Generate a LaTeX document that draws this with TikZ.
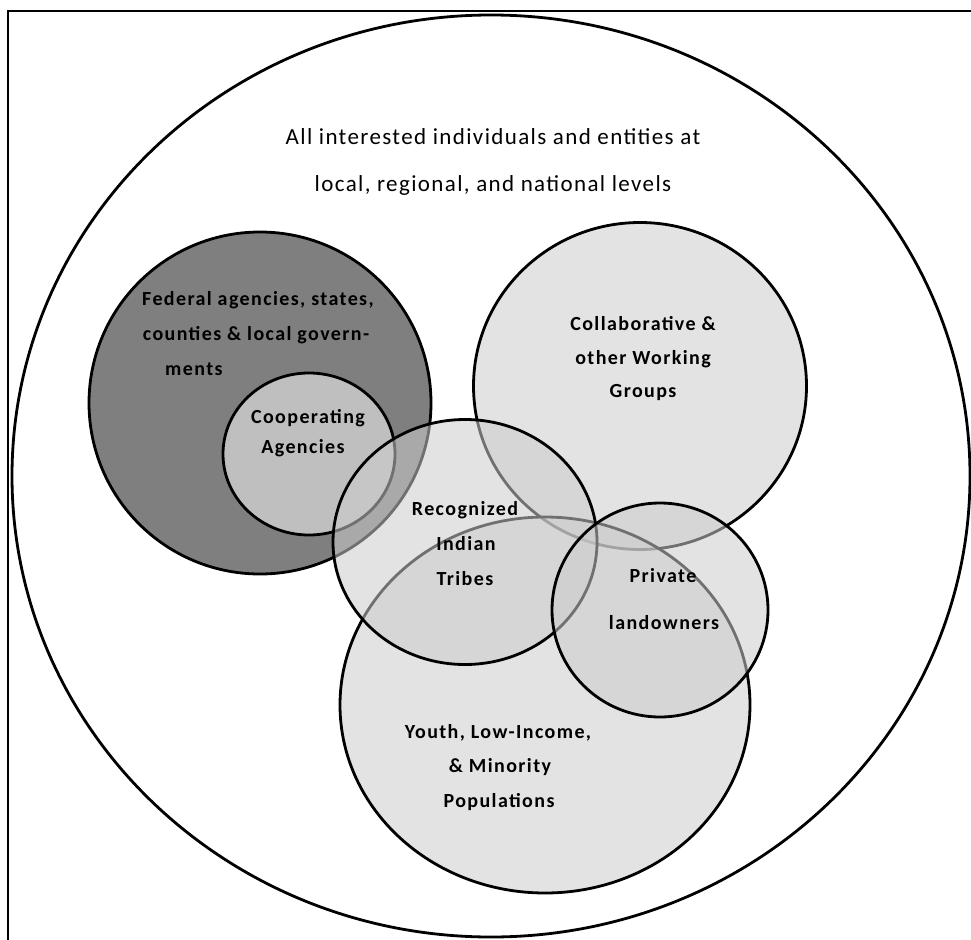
\documentclass[tikz,border=0pt]{standalone}
\usepackage{fontspec}
\setmainfont{Carlito}
\newfontfamily\lblfont[LetterSpace=7]{Carlito}
\newfontfamily\headfont[LetterSpace=6]{Carlito}
\usetikzlibrary{shapes.geometric}
\definecolor{darkfill}{HTML}{7F7F7F}
\definecolor{coopfill}{HTML}{BFBFBF}
\definecolor{litefill}{HTML}{CCCCCC}
\begin{document}
\begin{tikzpicture}[x=1pt,y=-1pt,
  circ/.style={ellipse, draw=black, line width=2.8pt, inner sep=0pt},
  litecirc/.style={circ, fill=litefill, fill opacity=0.55},
  lbl/.style={font=\lblfont\bfseries\fontsize{20}{24}\selectfont, text=black, inner sep=0pt, anchor=center},
  headtxt/.style={font=\headfont\fontsize{23}{27}\selectfont, text=black, inner sep=0pt, anchor=center}]
\useasboundingbox (0,0) rectangle (971,939);
\clip (0,0) rectangle (971,939);
\fill[white] (0,0) rectangle (971,939);
\draw[line width=2.7pt] (8,990) -- (8,11) -- (1000,11);
% circles
\node[circ, fill=white, minimum width=958pt, minimum height=922pt] (all) at (491,476) {};
\node[circ, fill=darkfill, minimum width=342pt, minimum height=342pt] (fed) at (260,403) {};
\node[circ, fill=coopfill, minimum width=172pt, minimum height=162pt] (coop) at (309,454) {};
\node[litecirc, minimum width=333pt, minimum height=327pt] (col) at (640,386) {};
\node[litecirc, minimum width=410pt, minimum height=376pt] (youth) at (545,705) {};
\node[litecirc, minimum width=264pt, minimum height=245pt] (tribes) at (465,542) {};
\node[litecirc, minimum width=216pt, minimum height=214pt] (priv) at (660,610) {};
% texts
\node[headtxt] (head1) at (493,137) {All interested individuals and entities at};
\node[headtxt] (head2) at (493,185) {local, regional, and national levels};
\node[lbl] (fed1) at (258,300) {Federal agencies, states,};
\node[lbl] (fed2) at (256,335) {counties \& local govern-};
\node[lbl, anchor=west] (fed3) at (165,369) {ments};
\node[lbl] (coop1) at (308,418) {Cooperating};
\node[lbl] (coop2) at (303,448) {Agencies};
\node[lbl] (trib1) at (465,510) {Recognized};
\node[lbl] (trib2) at (466,544) {Indian};
\node[lbl] (trib3) at (465,579) {Tribes};
\node[lbl] (col1) at (643,324) {Collaborative \&};
\node[lbl] (col2) at (643,359) {other Working};
\node[lbl] (col3) at (643,393) {Groups};
\node[lbl] (priv1) at (663,576) {Private};
\node[lbl] (priv2) at (664,623) {landowners};
\node[lbl] (you1) at (498,733) {Youth, Low-Income,};
\node[lbl] (you2) at (500,767) {\& Minority};
\node[lbl] (you3) at (499,802) {Populations};
\end{tikzpicture}
\end{document}
